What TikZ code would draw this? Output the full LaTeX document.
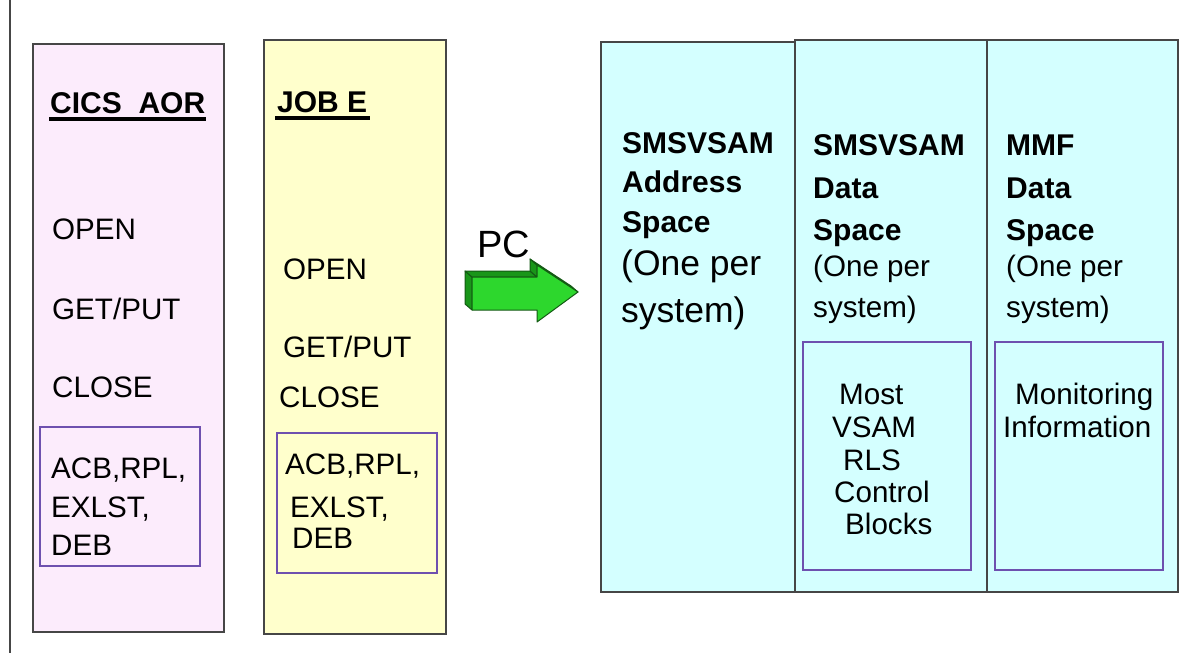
\documentclass[tikz,border=0pt]{standalone}
\usepackage{fontspec}
\setmainfont{Liberation Sans}
\definecolor{aorpink}{RGB}{252,236,252}
\definecolor{jobyellow}{RGB}{255,255,204}
\definecolor{spacecyan}{RGB}{212,255,255}
\definecolor{boxline}{RGB}{70,70,70}
\definecolor{cbline}{RGB}{110,80,175}
\definecolor{pcgreen}{RGB}{45,215,45}
\definecolor{pcside}{RGB}{25,150,25}
\definecolor{pcedge}{RGB}{20,90,20}
\begin{document}
\begin{tikzpicture}[x=1pt,y=-1pt,
    region/.style={draw=boxline,line width=1.5pt,anchor=north west,inner sep=0pt,outer sep=0pt},
    cblock/.style={draw=cbline,line width=1.5pt,anchor=north west,inner sep=0pt,outer sep=0pt},
    lbl/.style={anchor=base west,inner sep=0pt,font=\fontsize{29.6}{32}\selectfont},
    ttl/.style={lbl,font=\fontsize{30}{34}\selectfont\bfseries},
    big/.style={lbl,font=\fontsize{35.5}{40}\selectfont},
    uline/.style={line width=4pt},
    arrowface/.style={fill=pcgreen,draw=pcedge,line width=1pt,line join=round},
    arrowside/.style={fill=pcside,draw=pcedge,line width=1pt,line join=round}]
  \useasboundingbox (0,0) rectangle (1184,653);
  \draw[boxline,line width=1.5pt] (10,0) -- (10,653);

  % address spaces on the left
  \node[region,fill=aorpink,minimum width=191pt,minimum height=588pt] (aor) at (33,44) {};
  \node[region,fill=jobyellow,minimum width=182pt,minimum height=594pt] (job) at (264,40) {};
  \node[cblock,minimum width=160pt,minimum height=139pt] (aorcb) at (40,427) {};
  \node[cblock,minimum width=160pt,minimum height=140pt] (jobcb) at (277,433) {};

  \node[ttl] (aortitle) at (50,113) {CICS\ \ AOR};
  \node[lbl] (aoropen) at (52,239) {OPEN};
  \node[lbl] (aorget) at (52,319) {GET/PUT};
  \node[lbl] (aorclose) at (52,397) {CLOSE};
  \node[lbl] (aoracb) at (51,478) {ACB,RPL,};
  \node[lbl] (aorexl) at (51,517) {EXLST,};
  \node[lbl] (aordeb) at (51,555) {DEB};

  \node[ttl] (jobtitle) at (277,112) {JOB E};
  \node[lbl] (jobopen) at (283,279) {OPEN};
  \node[lbl] (jobget) at (283,357) {GET/PUT};
  \node[lbl] (jobclose) at (279,407) {CLOSE};
  \node[lbl] (jobacb) at (285,474) {ACB,RPL,};
  \node[lbl] (jobexl) at (290,517) {EXLST,};
  \node[lbl] (jobdeb) at (292,548) {DEB};

  \draw[uline] ([xshift=-1pt,yshift=-6pt]aortitle.base west) -- ([xshift=1pt,yshift=-6pt]aortitle.base east);
  \draw[uline] ([xshift=-2pt,yshift=-5.5pt]jobtitle.base west) -- ([xshift=3pt,yshift=-5.5pt]jobtitle.base east);

  % PC arrow
  \node[inner sep=0pt,anchor=base west,font=\fontsize{38}{42}\selectfont] (pclabel) at (477,257) {PC};
  \filldraw[arrowside] (465,271) -- (472,277) -- (472,310) -- (465,304) -- cycle;
  \filldraw[arrowside] (465,271) -- (530,271) -- (537,277) -- (472,277) -- cycle;
  \filldraw[arrowside] (530,271) -- (530,259) -- (537,265) -- (537,277) -- cycle;
  \filldraw[arrowside] (530,259) -- (571,286) -- (578,292) -- (537,265) -- cycle;
  \filldraw[arrowface] (472,277) -- (537,277) -- (537,265) -- (578,292)
    -- (537,322) -- (537,310) -- (472,310) -- cycle;

  % SMSVSAM side
  \node[region,fill=spacecyan,minimum width=194pt,minimum height=550pt] (smsas) at (601,42) {};
  \node[region,fill=spacecyan,minimum width=192pt,minimum height=552pt] (smsds) at (795,40) {};
  \node[region,fill=spacecyan,minimum width=191pt,minimum height=552pt] (mmfds) at (987,40) {};
  \node[cblock,minimum width=168pt,minimum height=228pt] (rlscb) at (803,342) {};
  \node[cblock,minimum width=168pt,minimum height=228pt] (mmfcb) at (995,342) {};

  \node[ttl] (asname) at (622,153) {SMSVSAM};
  \node[ttl] (asaddr) at (622,192) {Address};
  \node[ttl] (asspace) at (622,232) {Space};
  \node[big] (asone) at (621,275) {(One per};
  \node[big] (assys) at (621,322) {system)};

  \node[ttl] (dsname) at (813,155) {SMSVSAM};
  \node[ttl] (dsdata) at (813,198) {Data};
  \node[ttl] (dsspace) at (813,240) {Space};
  \node[lbl] (dsone) at (813,276) {(One per};
  \node[lbl] (dssys) at (813,317) {system)};

  \node[ttl] (mmfname) at (1006,155) {MMF};
  \node[ttl] (mmfdata) at (1006,198) {Data};
  \node[ttl] (mmfspace) at (1006,240) {Space};
  \node[lbl] (mmfone) at (1006,276) {(One per};
  \node[lbl] (mmfsys) at (1006,317) {system)};

  \node[lbl] (most) at (839,404) {Most};
  \node[lbl] (vsam) at (832,437) {VSAM};
  \node[lbl] (rls) at (843,470) {RLS};
  \node[lbl] (control) at (834,502) {Control};
  \node[lbl] (blocks) at (845,534) {Blocks};
  \node[lbl] (monitor) at (1015,404) {Monitoring};
  \node[lbl] (info) at (1003,437) {Information};
\end{tikzpicture}
\end{document}
